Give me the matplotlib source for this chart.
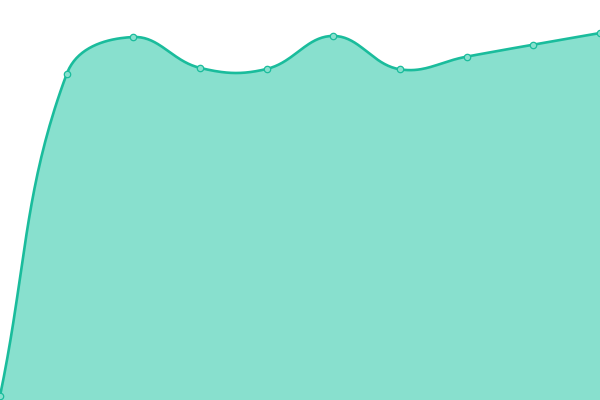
import numpy as np
import matplotlib
matplotlib.use("Agg")
import matplotlib.pyplot as plt

# Data (one point per category)
labels = ["1", "2", "3", "4", "5", "6", "7", "8", "9", "10"]
values = [0, 88.7, 98.9, 90.4, 90.1, 99.2, 90.0, 93.5, 96.8, 100.0]

line_color = "#1abc9c"
fill_color = "#88e0ce"
tension = 0.4

fig = plt.figure(figsize=(6, 4), dpi=100)
ax = fig.add_axes([0, 0, 1, 1])
ax.set_xlim(0, len(labels) - 1)
ax.set_ylim(-1.1, 109.1)
ax.axis("off")

x = np.arange(len(labels))
pts = ax.transData.transform(np.column_stack([x, values]))

# spline control points in pixel space (like a tension based bezier)
n = len(pts)
cps = []
for i in range(n):
    prev = pts[max(i - 1, 0)]
    cur = pts[i]
    nxt = pts[min(i + 1, n - 1)]
    d01 = np.hypot(*(cur - prev))
    d12 = np.hypot(*(nxt - cur))
    tot = d01 + d12
    s01 = d01 / tot if tot else 0
    s12 = d12 / tot if tot else 0
    c1 = cur - tension * s01 * (nxt - prev)
    c2 = cur + tension * s12 * (nxt - prev)
    cps.append((c1, c2))

bb = ax.bbox
curve = []
t = np.linspace(0, 1, 40)[:, None]
for i in range(n - 1):
    p0 = pts[i]
    p1 = cps[i][1].copy()
    p2 = cps[i + 1][0].copy()
    p3 = pts[i + 1]
    for p in (p1, p2):
        p[1] = np.clip(p[1], bb.y0, bb.y1)
    seg = ((1 - t) ** 3) * p0 + 3 * ((1 - t) ** 2) * t * p1 + 3 * (1 - t) * t ** 2 * p2 + t ** 3 * p3
    curve.append(seg if i == 0 else seg[1:])
curve = ax.transData.inverted().transform(np.vstack(curve))

ax.fill_between(curve[:, 0], curve[:, 1], -1.1, color=fill_color, lw=0)
ax.plot(curve[:, 0], curve[:, 1], color=line_color, lw=1.9, solid_capstyle="round")
ax.plot(x, values, "o", ms=4.6, mfc=fill_color, mec=line_color, mew=0.9, clip_on=False)

fig.savefig("out.png", dpi=100)
